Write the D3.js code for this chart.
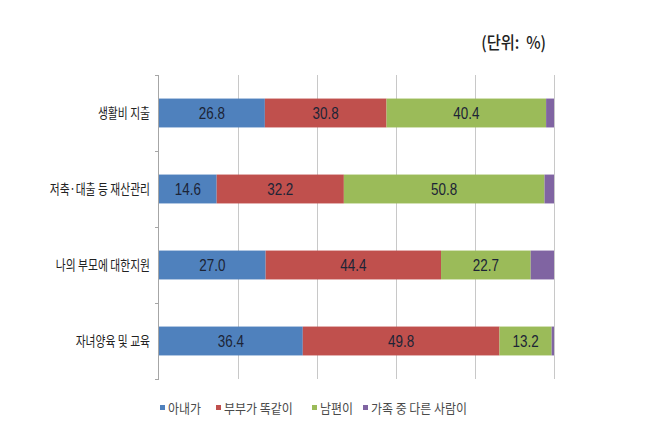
<!DOCTYPE html>
<html>
<head>
<meta charset="utf-8">
<script src="https://cdn.jsdelivr.net/npm/d3@7"></script>
<style>
  body { margin: 0; background: #fff; }
  svg { display: block; }
  .cat { font-family: "Noto Sans CJK KR", sans-serif; font-size: 13.5px; fill: #222; }
  .val { font-family: "Liberation Sans", sans-serif; font-size: 16px; fill: #1c2436; }
  .leg { font-family: "Noto Sans CJK KR", sans-serif; font-size: 13px; fill: #4a4a4a; }
  .unit { font-family: "Noto Sans CJK KR", sans-serif; font-size: 17px; font-weight: 500; fill: #222; }
</style>
</head>
<body>
<svg id="chart" width="654" height="432"></svg>
<script>
(function (d3) {
  'use strict';

  // categories (top to bottom)
  var categories = ["생활비 지출", "저축·대출 등 재산관리", "나의 부모에 대한지원", "자녀양육 및 교육"];
  var seriesNames = ["아내가", "부부가 똑같이", "남편이", "가족 중 다른 사람이"];
  var wife = [26.8, 14.6, 27.0, 36.4];
  var both = [30.8, 32.2, 44.4, 49.8];
  var husband = [40.4, 50.8, 22.7, 13.2];
  var others = [2.0, 2.4, 5.9, 0.6];
  var xTicks = [0, 20, 40, 60, 80, 100];
  var colors = ["#4f81bd", "#c0504d", "#9bbb59", "#8064a2"];
  var unitLabel = "(단위:  %)";

  var svg = d3.select("#chart");

  var rows = [];
  for (var i = 0; i < categories.length; i++) {
    rows.push({ cat: categories[i], s0: wife[i], s1: both[i], s2: husband[i], s3: others[i] });
  }
  var keys = ["s0", "s1", "s2", "s3"];
  var stacked = d3.stack().keys(keys)(rows);

  var x = d3.scaleLinear().domain([0, 100]).range([159, 554]);
  var y = d3.scaleBand().domain(categories).range([75, 379])
    .paddingInner(0.62).paddingOuter(0.31);

  // grid lines
  svg.append("g").selectAll("line")
    .data(xTicks.slice(1))
    .enter().append("line")
    .attr("x1", function (d) { return x(d) + 0.5; })
    .attr("x2", function (d) { return x(d) + 0.5; })
    .attr("y1", 75)
    .attr("y2", 379)
    .attr("stroke", "#c8c8c8")
    .attr("stroke-width", 1);

  // left axis with category ticks
  var bounds = [75];
  y.domain().forEach(function (c) { bounds.push(y(c) + y.bandwidth() + y.step() * 0.31); });
  svg.append("line")
    .attr("x1", x(0) - 0.5).attr("x2", x(0) - 0.5)
    .attr("y1", 75).attr("y2", 379)
    .attr("stroke", "#a6a6a6");
  svg.append("g").selectAll("line")
    .data(bounds)
    .enter().append("line")
    .attr("x1", x(0) - 4).attr("x2", x(0))
    .attr("y1", function (d) { return Math.round(d) + 0.5; })
    .attr("y2", function (d) { return Math.round(d) + 0.5; })
    .attr("stroke", "#a6a6a6");

  // bars
  var layers = svg.append("g").selectAll("g")
    .data(stacked)
    .enter().append("g")
    .attr("fill", function (d, i) { return colors[i]; });

  layers.selectAll("rect")
    .data(function (d) { return d; })
    .enter().append("rect")
    .attr("x", function (d) { return x(d[0]); })
    .attr("y", function (d) { return y(d.data.cat); })
    .attr("width", function (d) { return x(d[1]) - x(d[0]); })
    .attr("height", y.bandwidth());

  // value labels (not for the last series)
  layers.filter(function (d, i) { return i < 3; })
    .selectAll("text")
    .data(function (d) { return d; })
    .enter().append("text")
    .attr("class", "val")
    .attr("text-anchor", "middle")
    .attr("transform", function (d) {
      return "translate(" + (x(d[0]) + x(d[1])) / 2 + "," + (y(d.data.cat) + y.bandwidth() / 2 + 6) + ") scale(0.84,1)";
    })
    .text(function (d) { return d3.format(".1f")(d[1] - d[0]); });

  // category labels
  svg.append("g").selectAll("text")
    .data(categories)
    .enter().append("text")
    .attr("class", "cat")
    .attr("text-anchor", "end")
    .attr("transform", function (d) {
      return "translate(150," + (y(d) + y.bandwidth() / 2 + 5) + ") scale(0.8,1)";
    })
    .text(function (d) { return d; });

  // unit label
  svg.append("text")
    .attr("class", "unit")
    .attr("text-anchor", "end")
    .attr("transform", "translate(546,49) scale(0.9,1)")
    .text(unitLabel)
    .style("white-space", "pre");

  // legend
  var legX = [160, 216, 312, 363];
  var leg = svg.append("g").selectAll("g")
    .data(seriesNames)
    .enter().append("g")
    .attr("transform", function (d, i) { return "translate(" + legX[i] + ",408)"; });
  leg.append("rect")
    .attr("x", 0).attr("y", -3)
    .attr("width", 5).attr("height", 5)
    .attr("fill", function (d, i) { return colors[i]; });
  leg.append("text")
    .attr("class", "leg")
    .attr("transform", "translate(8,4.5) scale(0.92,1)")
    .text(function (d) { return d; });

})(d3);
</script>
</body>
</html>
